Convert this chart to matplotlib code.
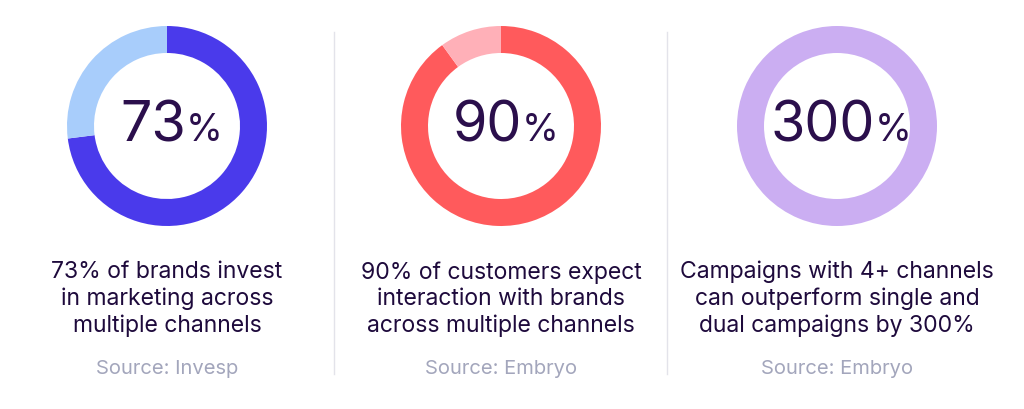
import matplotlib
matplotlib.use("Agg")
import matplotlib.pyplot as plt

numbers = ["73", "90", "300"]
shares = [73, 90, 100]
main_colors = ["#4A3AEB", "#FF5A5C", "#CBAEF2"]
rest_colors = ["#A8CDFB", "#FFB0B8", "#CBAEF2"]
captions = ["73% of brands invest\nin marketing across\nmultiple channels",
            "90% of customers expect\ninteraction with brands\nacross multiple channels",
            "Campaigns with 4+ channels\ncan outperform single and\ndual campaigns by 300%"]
sources = ["Source: Invesp", "Source: Embryo", "Source: Embryo"]

W, H = 1024, 410
fig = plt.figure(figsize=(W/100, H/100), dpi=100)
ax = fig.add_axes([0, 0, 1, 1])
ax.set_xlim(0, W); ax.set_ylim(0, H); ax.axis("off")
font = "Inter"
centers = [167, 501, 837]
dark = "#2B0F4C"
for i, cx in enumerate(centers):
    cy = H - 127
    ax.pie([shares[i], 100 - shares[i]], colors=[main_colors[i], rest_colors[i]],
           center=(cx, cy), radius=100, startangle=90, counterclock=False,
           wedgeprops=dict(width=27, linewidth=0), frame=True)
    t = ax.text(cx - 14, cy, numbers[i], fontsize=40, color=dark, family=font,
                ha="center", va="center")
    ax.annotate("%", xy=(1.0, 0.08), xycoords=t, fontsize=27, color=dark,
                family=font, ha="left", va="bottom")
    ax.text(cx, H - 299, captions[i], fontsize=16.5, color="#1E0A3C", family=font,
            ha="center", va="center", linespacing=1.25)
    ax.text(cx, H - 369, sources[i], fontsize=14.5, color="#A3A6BC", family=font,
            ha="center", va="center")
for x in [334, 667]:
    ax.plot([x, x], [H - 375, H - 33], color="#E3E3EA", lw=1)
ax.set_xlim(0, W); ax.set_ylim(0, H); ax.set_aspect("equal"); ax.axis("off")
fig.savefig("out.png", dpi=100, facecolor="white")
